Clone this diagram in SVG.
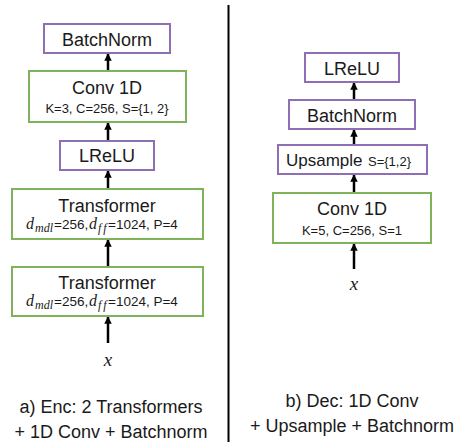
<svg xmlns="http://www.w3.org/2000/svg" width="458" height="442" viewBox="0 0 458 442">
<defs>
<style>
.p{fill:#fff;stroke:#8e6fb6;stroke-width:2}
.g{fill:#fff;stroke:#7fb35a;stroke-width:2}
.t{font-family:"Liberation Sans",Arial,sans-serif;fill:#1a1a1a;text-anchor:middle}
.b{font-size:18px}
.s{font-size:13px}
.m{font-family:"Liberation Serif","DejaVu Serif",serif;font-style:italic;fill:#1a1a1a}
.n{font-family:"Liberation Sans",Arial,sans-serif;font-size:13.5px}
.a{stroke:#000;stroke-width:2.5;fill:none;marker-end:url(#ah)}
.cap{font-family:"Liberation Sans",Arial,sans-serif;font-size:18px;fill:#1a1a1a;text-anchor:middle}
</style>
<marker id="ah" viewBox="0 0 10 10" refX="9" refY="5" markerWidth="3" markerHeight="3.4" orient="auto" markerUnits="strokeWidth">
<path d="M0,0 L10,5 L0,10 z" fill="#000"/>
</marker>
</defs>
<rect width="458" height="442" fill="#fff"/>
<line x1="228.5" y1="5" x2="228.5" y2="442" stroke="#000" stroke-width="2"/>

<g id="connectors">
<line class="a" x1="108" y1="71" x2="108" y2="54"/>
<line class="a" x1="108" y1="140" x2="108" y2="123"/>
<line class="a" x1="108" y1="189" x2="108" y2="171"/>
<line class="a" x1="108" y1="267" x2="108" y2="240"/>
<line class="a" x1="108" y1="343" x2="108" y2="317"/>
<line class="a" x1="354" y1="100" x2="354" y2="83"/>
<line class="a" x1="354" y1="145" x2="354" y2="130"/>
<line class="a" x1="354" y1="193" x2="354" y2="175"/>
<line class="a" x1="354" y1="269" x2="354" y2="244"/>
</g>

<g id="enc-batchnorm">
<rect class="p" x="44" y="24" width="126" height="29"/>
<text class="t b" x="107" y="46">BatchNorm</text>
</g>
<g id="enc-conv">
<rect class="g" x="29" y="71" width="157" height="51"/>
<text class="t b" x="107" y="94">Conv 1D</text>
<text class="t s" x="107" y="113">K=3, C=256, S={1, 2}</text>
</g>
<g id="enc-lrelu">
<rect class="p" x="60" y="141" width="94" height="29"/>
<text class="t b" x="107" y="162">LReLU</text>
</g>
<g id="enc-transformer1">
<rect class="g" x="12" y="189" width="191" height="50"/>
<text class="t b" x="107" y="212">Transformer</text>
<text y="229" fill="#1a1a1a"><tspan class="m" x="26" font-size="16">d</tspan><tspan class="m" x="35" y="232" font-size="12">mdl</tspan><tspan class="n" x="54" y="229">=256,</tspan><tspan class="m" x="89" font-size="16">d</tspan><tspan class="m" x="98" y="232" font-size="12" letter-spacing="2">ff</tspan><tspan class="n" x="108" y="229">=1024, P=4</tspan></text>
</g>
<g id="enc-transformer2">
<rect class="g" x="12" y="267" width="191" height="49"/>
<text class="t b" x="107" y="289">Transformer</text>
<text y="306" fill="#1a1a1a"><tspan class="m" x="26" font-size="16">d</tspan><tspan class="m" x="35" y="309" font-size="12">mdl</tspan><tspan class="n" x="54" y="306">=256,</tspan><tspan class="m" x="89" font-size="16">d</tspan><tspan class="m" x="98" y="309" font-size="12" letter-spacing="2">ff</tspan><tspan class="n" x="108" y="306">=1024, P=4</tspan></text>
</g>
<g id="enc-x">
<text class="m" x="108" y="366" font-size="19" text-anchor="middle">x</text>
</g>

<g id="dec-lrelu">
<rect class="p" x="305" y="53" width="94" height="29"/>
<text class="t b" x="352" y="75">LReLU</text>
</g>
<g id="dec-batchnorm">
<rect class="p" x="289" y="100" width="126" height="29"/>
<text class="t b" x="352" y="122">BatchNorm</text>
</g>
<g id="dec-upsample">
<rect class="p" x="278" y="145" width="149" height="29"/>
<text x="286" y="166" fill="#1a1a1a" font-family="Liberation Sans,Arial,sans-serif"><tspan font-size="17">Upsample</tspan><tspan x="368" font-size="13">S={1,2}</tspan></text>
</g>
<g id="dec-conv">
<rect class="g" x="273" y="193" width="158" height="50"/>
<text class="t b" x="352" y="215">Conv 1D</text>
<text class="t s" x="352" y="235">K=5, C=256, S=1</text>
</g>
<g id="dec-x">
<text class="m" x="354" y="290" font-size="19" text-anchor="middle">x</text>
</g>

<g id="captions">
<text class="cap" x="111" y="413">a) Enc: 2 Transformers</text>
<text class="cap" x="111" y="438">+ 1D Conv + Batchnorm</text>
<text class="cap" x="352" y="407">b) Dec: 1D Conv</text>
<text class="cap" x="352" y="432">+ Upsample + Batchnorm</text>
</g>
</svg>
